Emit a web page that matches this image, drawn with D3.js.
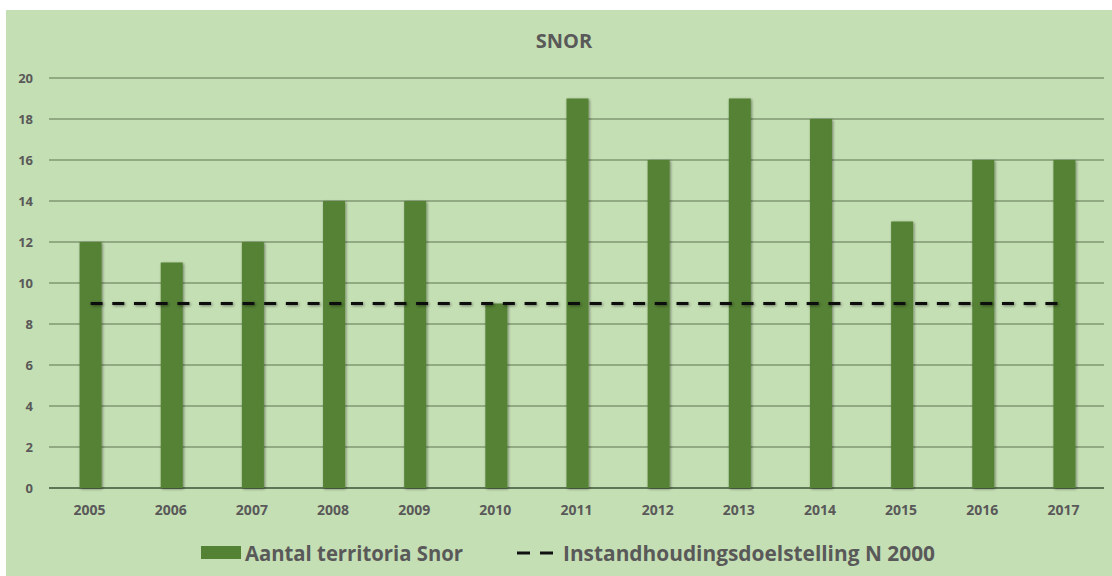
<!DOCTYPE html>
<html>
<head>
<meta charset="utf-8">
<script src="https://cdn.jsdelivr.net/npm/d3@7"></script>
<style>
  body { margin: 0; background: #fff; }
  svg text { font-family: "Open Sans", "Noto Sans", sans-serif; font-weight: bold; fill: #595959; }
</style>
</head>
<body>
<div id="chart"></div>
<script>
// data
var years = ["2005","2006","2007","2008","2009","2010","2011","2012","2013","2014","2015","2016","2017"];
var territoria = [12, 11, 12, 14, 14, 9, 19, 16, 19, 18, 13, 16, 16];
var doelstelling = [9, 9, 9, 9, 9, 9, 9, 9, 9, 9, 9, 9, 9];
var yTicks = [0, 2, 4, 6, 8, 10, 12, 14, 16, 18, 20];

var width = 1112,
    height = 576;

var svg = d3.select("#chart").append("svg")
    .attr("width", width)
    .attr("height", height);

// soft shadow like the office chart (user space, so a flat line still renders)
var defs = svg.append("defs");
var f = defs.append("filter").attr("id", "soft")
    .attr("filterUnits", "userSpaceOnUse")
    .attr("x", 0).attr("y", 0).attr("width", width).attr("height", height);
f.append("feGaussianBlur").attr("in", "SourceAlpha").attr("stdDeviation", 1.6).attr("result", "b");
f.append("feOffset").attr("in", "b").attr("dx", 1).attr("dy", 1).attr("result", "o");
f.append("feComponentTransfer").attr("in", "o").attr("result", "s")
  .append("feFuncA").attr("type", "linear").attr("slope", 0.45);
var m = f.append("feMerge");
m.append("feMergeNode").attr("in", "s");
m.append("feMergeNode").attr("in", "SourceGraphic");

// background
svg.append("rect")
    .attr("x", 6).attr("y", 10)
    .attr("width", width - 6).attr("height", height - 10)
    .attr("fill", "#c5dfb4");

var x = d3.scaleBand()
    .domain(years)
    .range([49, 1104])
    .padding(0);

var y = d3.scaleLinear()
    .domain([0, 20])
    .range([488, 78]);

// title
svg.append("text")
    .attr("x", 564).attr("y", 48)
    .attr("text-anchor", "middle")
    .style("font-size", "20px")
    .text("SNOR");

// gridlines
svg.append("g")
    .selectAll("line")
    .data(yTicks)
    .enter().append("line")
    .attr("x1", 49).attr("x2", 1104)
    .attr("y1", function(d) { return y(d); })
    .attr("y2", function(d) { return y(d); })
    .attr("stroke", function(d) { return d == 0 ? "#5f7656" : "#7f9872"; })
    .attr("stroke-width", function(d) { return d == 0 ? 2 : 1.5; });

// y axis labels
var yAxis = d3.axisLeft(y).tickValues(yTicks).tickSize(0).tickPadding(0);
svg.append("g")
    .attr("transform", "translate(33,0)")
    .call(yAxis)
    .call(function(g) { g.select(".domain").remove(); })
    .selectAll("text")
    .attr("dy", "0.36em")
    .style("font-size", "13px");

// x axis labels
var xAxis = d3.axisBottom(x).tickSize(0).tickPadding(0);
svg.append("g")
    .attr("transform", "translate(0,515)")
    .call(xAxis)
    .call(function(g) { g.select(".domain").remove(); })
    .selectAll("text")
    .attr("dy", 0)
    .style("font-size", "14px");

// bars
var barW = 22;
svg.append("g")
    .selectAll("rect")
    .data(territoria)
    .enter().append("rect")
    .attr("x", function(d, i) { return x(years[i]) + x.bandwidth() / 2 - barW / 2 + 1; })
    .attr("y", function(d) { return y(d); })
    .attr("width", barW)
    .attr("height", function(d) { return y(0) - y(d); })
    .attr("fill", "#548235")
    .attr("filter", "url(#soft)");

// target line
var line = d3.line()
    .x(function(d, i) { return x(years[i]) + x.bandwidth() / 2 + 1; })
    .y(function(d) { return y(d); });

svg.append("path")
    .datum(doelstelling)
    .attr("d", line)
    .attr("fill", "none")
    .attr("stroke", "#111")
    .attr("stroke-width", 3)
    .attr("stroke-dasharray", "12,9.7")
    .attr("filter", "url(#soft)");

// legend
var leg = svg.append("g");
leg.append("rect")
    .attr("x", 201).attr("y", 546)
    .attr("width", 40).attr("height", 13)
    .attr("fill", "#548235");
leg.append("text")
    .attr("x", 245).attr("y", 561)
    .attr("textLength", 218)
    .attr("lengthAdjust", "spacingAndGlyphs")
    .style("font-size", "21px")
    .text("Aantal territoria Snor");
leg.append("line")
    .attr("x1", 517).attr("x2", 553)
    .attr("y1", 553).attr("y2", 553)
    .attr("stroke", "#111")
    .attr("stroke-width", 3)
    .attr("stroke-dasharray", "13,10,13,50");
leg.append("text")
    .attr("x", 563).attr("y", 561)
    .attr("textLength", 372)
    .attr("lengthAdjust", "spacingAndGlyphs")
    .style("font-size", "21px")
    .text("Instandhoudingsdoelstelling N 2000");
</script>
</body>
</html>
